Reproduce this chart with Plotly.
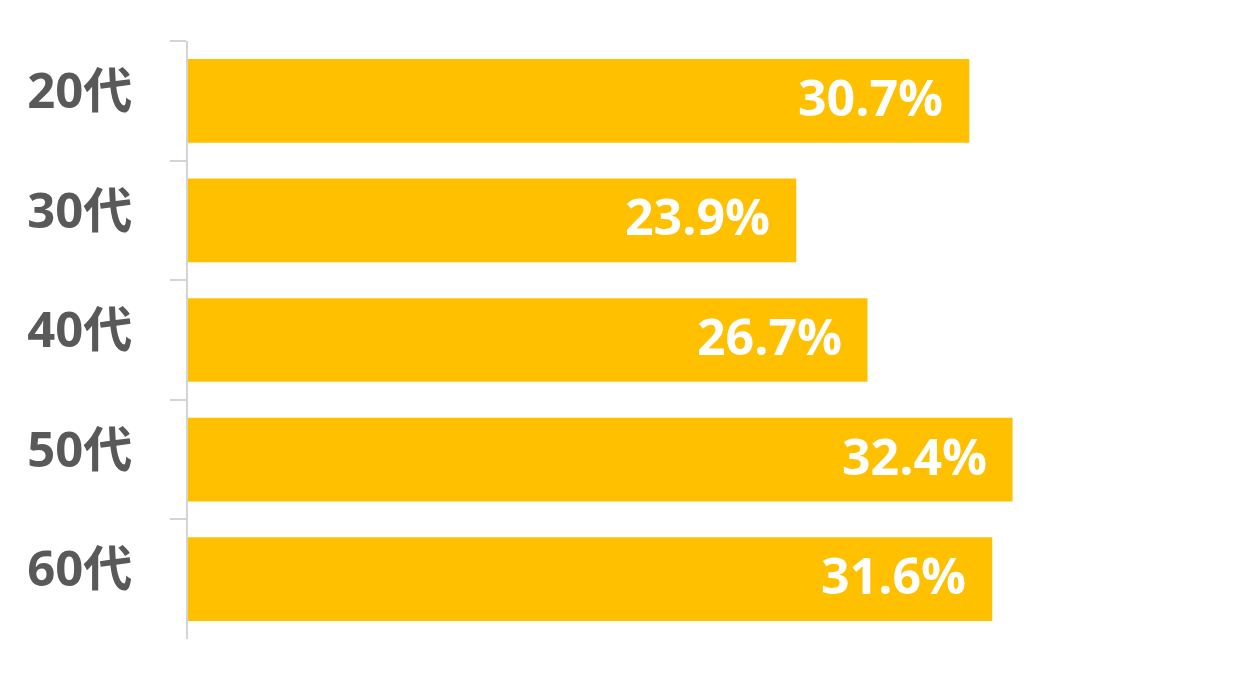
import plotly.graph_objects as go

ages = ["20代", "30代", "40代", "50代", "60代"]
rates = [30.7, 23.9, 26.7, 32.4, 31.6]
labels = ["30.7%", "23.9%", "26.7%", "32.4%", "31.6%"]

fig = go.Figure()
fig.add_trace(go.Bar(x=rates, y=ages, orientation="h",
                     marker=dict(color="#FFC000", line=dict(width=0)),
                     hoverinfo="skip"))

for a, v, t in zip(ages, rates, labels):
    fig.add_annotation(x=v, y=a, text=t, showarrow=False, xanchor="right",
                       xshift=-24, yshift=4,
                       font=dict(family="Open Sans", size=50, color="white", weight="bold"))

fig.update_layout(
    width=1247, height=680,
    margin=dict(l=180, r=49, t=33, b=49),
    paper_bgcolor="white", plot_bgcolor="white",
    bargap=0.3, showlegend=False,
    xaxis=dict(range=[0, 40], visible=False),
    yaxis=dict(autorange="reversed", showline=True, linecolor="#d4d4d4", linewidth=2,
               ticks="outside", tickson="boundaries", ticklen=16, tickwidth=2,
               tickcolor="#d4d4d4", ticklabelstandoff=44, ticklabelshift=10,
               tickfont=dict(family="Open Sans, Noto Sans CJK JP", size=49,
                             color="#595959", weight="bold")),
)

fig.write_html("out.html")
